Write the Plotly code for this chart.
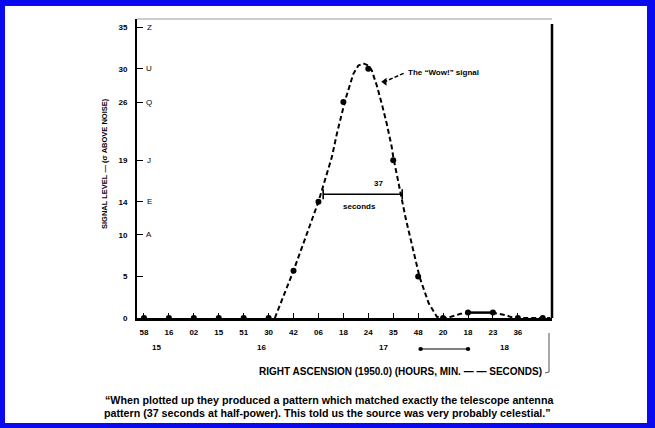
import plotly.graph_objects as go

# ---------------- data ----------------
sample_idx = list(range(17))
signal_vals = [0, 0, 0, 0, 0, 0, 5.7, 14, 26, 30, 19, 5, 0, 0.65, 0.65, 0, 0]

x_tick_labels = ["58", "16", "02", "15", "51", "30", "42", "06", "18", "24",
                 "35", "48", "20", "18", "23", "36"]
minute_labels = ["15", "16", "17", "18"]
minute_pos = [0.25, 4.45, 9.35, 14.2]

y_tick_vals = [0, 5, 10, 14, 19, 26, 30, 35]
y_tick_text = ["0", "5", "10", "14", "19", "26", "30", "35"]
y_code_vals = [10, 14, 19, 26, 30, 35]
y_code_text = ["A", "E", "J", "Q", "U", "Z"]

# antenna-pattern curve (dashed)
curve_x = [5.25, 6, 7, 7.54, 7.74, 8.07, 8.4, 8.6, 8.8, 9.0, 9.14, 9.34, 9.54,
           9.74, 9.94, 10.0, 10.5, 11.06, 11.42, 11.75, 12.15, 12.7, 13.02]
curve_y = [0, 5.7, 14, 19.4, 22.2, 26.2, 29.4, 30.4, 30.65, 30.4, 29.8, 28, 25.8,
           23.4, 20.6, 19.4, 12, 4.9, 1.8, 0.15, 0, 0.5, 0.65]
tail_x = [13.96, 14.5, 14.83, 16.3]
tail_y = [0.65, 0.36, 0, 0]
bump_x = [13.02, 13.96]
bump_y = [0.65, 0.65]

half_power_level = 14.9
half_power_span = [7.19, 10.36]

# ---------------- geometry helpers (pixels -> paper) ----------------
W, H = 655, 428
L, R, T, B = 137, 552, 19, 318
PW, PH = R - L, B - T


def px(x):
    return (x - L) / PW


def py(y):
    return (B - y) / PH


FONT = "Liberation Sans"
fig = go.Figure()

fig.add_trace(go.Scatter(x=curve_x, y=curve_y, mode="lines",
                         line=dict(color="black", width=2, dash="5px,3px"),
                         hoverinfo="skip", showlegend=False))
fig.add_trace(go.Scatter(x=tail_x, y=tail_y, mode="lines",
                         line=dict(color="black", width=2, dash="5px,3px"),
                         hoverinfo="skip", showlegend=False))
fig.add_trace(go.Scatter(x=bump_x, y=bump_y, mode="lines",
                         line=dict(color="black", width=2.5),
                         hoverinfo="skip", showlegend=False))
fig.add_trace(go.Scatter(x=sample_idx, y=signal_vals, mode="markers",
                         marker=dict(color="black", size=6),
                         cliponaxis=False, showlegend=False))

# "Wow!" leader line
fig.add_trace(go.Scatter(x=[9.61, 10.45], y=[28.4, 29.5], mode="lines",
                         line=dict(color="black", width=1.5, dash="4px,2px"),
                         hoverinfo="skip", showlegend=False))
fig.add_trace(go.Scatter(x=[9.66], y=[28.45], mode="markers",
                         marker=dict(symbol="triangle-left", size=7, color="black"),
                         hoverinfo="skip", showlegend=False))

shapes = []
# frame
shapes.append(dict(type="line", xref="paper", yref="paper", x0=0, x1=1, y0=1, y1=1,
                   line=dict(color="#9a9a9a", width=1)))
shapes.append(dict(type="line", xref="paper", yref="paper", x0=1, x1=1, y0=0, y1=py(24),
                   line=dict(color="black", width=2.5)))
# 37 seconds half-power bar
shapes.append(dict(type="line", xref="x", yref="y", x0=half_power_span[0], x1=half_power_span[1],
                   y0=half_power_level, y1=half_power_level, line=dict(color="black", width=1.6)))
for xe in half_power_span:
    shapes.append(dict(type="line", xref="x", yref="y", x0=xe, x1=xe,
                       y0=half_power_level - 0.6, y1=half_power_level + 0.6,
                       line=dict(color="black", width=1.6)))
# minute arrow below axis
shapes.append(dict(type="line", xref="x", yref="paper", x0=11.1, x1=13.0,
                   y0=py(349), y1=py(349), line=dict(color="black", width=1)))
for xe in (11.1, 13.0):
    shapes.append(dict(type="circle", xref="x", yref="paper",
                       x0=xe - 0.09, x1=xe + 0.09, y0=py(351), y1=py(347),
                       fillcolor="black", line=dict(color="black", width=0)))
# bracket on right of axis title
shapes.append(dict(type="line", xref="paper", yref="paper", x0=px(549), x1=px(549),
                   y0=py(333), y1=py(372), line=dict(color="#555", width=1)))
shapes.append(dict(type="line", xref="paper", yref="paper", x0=px(545), x1=px(549),
                   y0=py(373), y1=py(372), line=dict(color="#555", width=1)))
# blue border
BLUE = "#0a0af0"
for (x0, y0, x1, y1) in [(0, 0, 655, 6), (0, 423, 655, 428), (0, 0, 5, 428), (647, 0, 655, 428)]:
    shapes.append(dict(type="rect", xref="paper", yref="paper",
                       x0=px(x0), x1=px(x1), y0=py(y1), y1=py(y0),
                       fillcolor=BLUE, line=dict(width=0), layer="above"))


def note(x, y, text, size=8, bold=True, xref="paper", yref="paper", **kw):
    f = dict(family=FONT, size=size, color="black")
    if bold:
        f["weight"] = "bold"
    d = dict(x=x, y=y, xref=xref, yref=yref, text=text, showarrow=False, font=f,
             xanchor="center", yanchor="middle")
    d.update(kw)
    return d


ann = []
for v, t in zip(y_code_vals, y_code_text):
    ann.append(note(px(149), v, t, bold=False, yref="y"))
for p, t in zip(minute_pos, minute_labels):
    ann.append(note(p, py(347), t, xref="x", xanchor="left"))
ann.append(note(9.4, 16.2, "37", xref="x", yref="y"))
ann.append(note(8.65, 13.4, "seconds", xref="x", yref="y"))
ann.append(note(10.5, 29.6, "The \u201cWow!\u201d signal", xref="x", yref="y", xanchor="left"))
ann.append(note(px(104), py(164), "SIGNAL LEVEL \u2014 (\u03c3 ABOVE NOISE)", size=7.5, textangle=-90))
ann.append(note(px(400), py(372), "RIGHT ASCENSION (1950.0) (HOURS, MIN. \u2014 \u2014 SECONDS)", size=10))
ann.append(note(px(329), py(400),
                "\u201cWhen plotted up they produced a pattern which matched exactly the telescope antenna",
                size=10.7))
ann.append(note(px(327), py(413),
                "pattern (37 seconds at half-power). This told us the source was very probably celestial.\u201d",
                size=10.7))

fig.update_layout(
    width=W, height=H,
    margin=dict(l=L, r=W - R, t=T, b=H - B, pad=0),
    paper_bgcolor="white", plot_bgcolor="white",
    showlegend=False,
    shapes=shapes, annotations=ann,
    xaxis=dict(range=[-0.28, 16.37], tickvals=list(range(len(x_tick_labels))),
               ticktext=x_tick_labels, ticks="inside", ticklen=5, tickcolor="black",
               tickwidth=1, showgrid=False, zeroline=False, showline=True,
               linecolor="black", linewidth=3, ticklabelstandoff=4,
               tickfont=dict(family=FONT, size=8, color="black", weight="bold")),
    yaxis=dict(range=[0, 36], tickvals=y_tick_vals, ticktext=y_tick_text,
               ticks="inside", ticklen=6, tickcolor="black", tickwidth=1.2,
               showgrid=False, zeroline=False, showline=True, linecolor="black",
               linewidth=2, ticklabelstandoff=6,
               tickfont=dict(family=FONT, size=8, color="black", weight="bold")),
)

fig.write_html("out.html", config={"displayModeBar": False},
               post_script="document.body.style.margin='0';document.body.style.overflow='hidden';")
